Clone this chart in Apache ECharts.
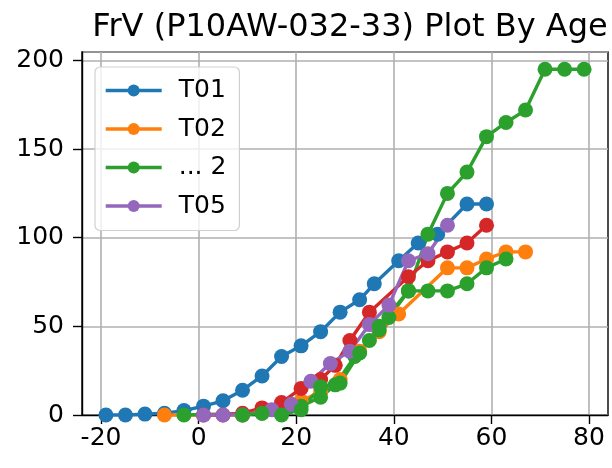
<!DOCTYPE html>
<html>
<head>
<meta charset="utf-8">
<script src="https://cdn.jsdelivr.net/npm/echarts@6/dist/echarts.min.js"></script>
<style>html,body{margin:0;padding:0;background:#fff;}#c{width:612px;height:468px;}</style>
</head>
<body>
<div id="c"></div>
<script>
const titleText = 'FrV (P10AW-032-33) Plot By Age';
const xTicks = [-20, 0, 20, 40, 60, 80];
const yTicks = [0, 50, 100, 150, 200];

const t01X = [-19, -15, -11, -7, -3, 1, 5, 9, 13, 17, 21, 25, 29, 33, 36, 41, 45, 49, 55, 59];
const t01Y = [0, 0, 0.5, 1, 2.5, 5, 8, 14, 22, 33, 39, 47, 58, 65, 74, 87, 97, 102, 119, 119];

const t02X = [-7, 9, 13, 17, 21, 25, 29, 33, 37, 41, 51, 55, 59, 63, 67];
const t02Y = [0, 0, 2, 4, 8, 13, 20, 36, 47, 57, 83, 83, 88, 92, 92];

const g1X = [-3, 13, 17, 21, 25, 28, 32, 35, 37, 39, 43, 47, 51, 55, 59, 63, 67, 71, 75, 79];
const g1Y = [0, 1, 2, 5, 10, 17, 33, 42, 48, 55, 70, 102, 125, 137, 157, 165, 172, 195, 195, 195];

const redX = [1, 5, 9, 13, 17, 21, 25, 28, 31, 35, 43, 47, 51, 55, 59];
const redY = [0, 0, 1, 4, 7, 15, 20, 28, 42, 58, 78, 87, 92, 97, 107];

const t05X = [1, 5, 9, 15, 19, 23, 27, 31, 35, 39, 43, 47, 51];
const t05Y = [0, 0, 0, 3, 6, 19, 29, 36, 51, 62, 87, 91, 107];

const g2X = [9, 13, 17, 21, 25, 29, 33, 37, 43, 47, 51, 55, 59, 63];
const g2Y = [0, 1, 0, 3, 16, 18, 35, 50, 70, 70, 70, 74, 83, 88];

const legendNames = ['T01', 'T02', '... 2', 'T05'];

function pairs(xs, ys) { return xs.map((x, i) => [x, ys[i]]); }

const FONT = 'DejaVu Sans';
function mkSeries(name, color, xs, ys) {
  return {
    name: name, type: 'line', data: pairs(xs, ys),
    symbol: 'circle', symbolSize: 15, showSymbol: true,
    lineStyle: { color: color, width: 3.4 },
    itemStyle: { color: color },
    emphasis: { disabled: true },
    animation: false, clip: true
  };
}

const chart = echarts.init(document.getElementById('c'), null, { renderer: 'canvas' });
chart.setOption({
  animation: false,
  backgroundColor: '#fff',
  textStyle: { fontFamily: FONT },
  title: {
    text: titleText, left: 345, top: 7, textAlign: 'center',
    textStyle: { fontFamily: FONT, fontSize: 32, fontWeight: 'normal', color: '#000' }
  },
  legend: {
    data: legendNames, orient: 'vertical', left: 95, top: 67,
    itemWidth: 56, itemHeight: 15, itemGap: 13.5,
    padding: [11, 13, 12, 9],
    borderColor: '#d0d0d0', borderWidth: 1.2, borderRadius: 5,
    backgroundColor: 'rgba(255,255,255,0.8)',
    lineStyle: { width: 3.4 },
    textStyle: { fontFamily: FONT, fontSize: 25, color: '#000', padding: [0, 0, 0, 12] }
  },
  grid: { left: 82, right: 4, top: 52, bottom: 53, show: true, borderColor: '#000', borderWidth: 1.4, containLabel: false },
  xAxis: {
    type: 'value', min: -23.9, max: 83.9,
    axisLine: { show: true, onZero: false, lineStyle: { color: '#000', width: 1.4 } },
    axisTick: { show: true, inside: false, length: 9, lineStyle: { color: '#000', width: 1.4 }, customValues: xTicks },
    axisLabel: { customValues: xTicks, fontFamily: FONT, fontSize: 25, color: '#000', margin: 11 },
    splitLine: { show: true, lineStyle: { color: '#b0b0b0', width: 1.6 } }
  },
  yAxis: {
    type: 'value', min: 0, max: 204.75, interval: 50,
    axisLine: { show: true, onZero: false, lineStyle: { color: '#000', width: 1.4 } },
    axisTick: { show: true, inside: false, length: 9, lineStyle: { color: '#000', width: 1.4 } },
    axisLabel: { fontFamily: FONT, fontSize: 25, color: '#000', margin: 18, showMaxLabel: false },
    splitLine: { show: true, lineStyle: { color: '#b0b0b0', width: 1.6 } }
  },
  series: [
    mkSeries('T01', '#1f77b4', t01X, t01Y),
    mkSeries('T02', '#ff7f0e', t02X, t02Y),
    mkSeries('... 2', '#2ca02c', g1X, g1Y),
    mkSeries('_child3', '#d62728', redX, redY),
    mkSeries('T05', '#9467bd', t05X, t05Y),
    mkSeries('_child5', '#2ca02c', g2X, g2Y)
  ]
});
</script>
</body>
</html>
